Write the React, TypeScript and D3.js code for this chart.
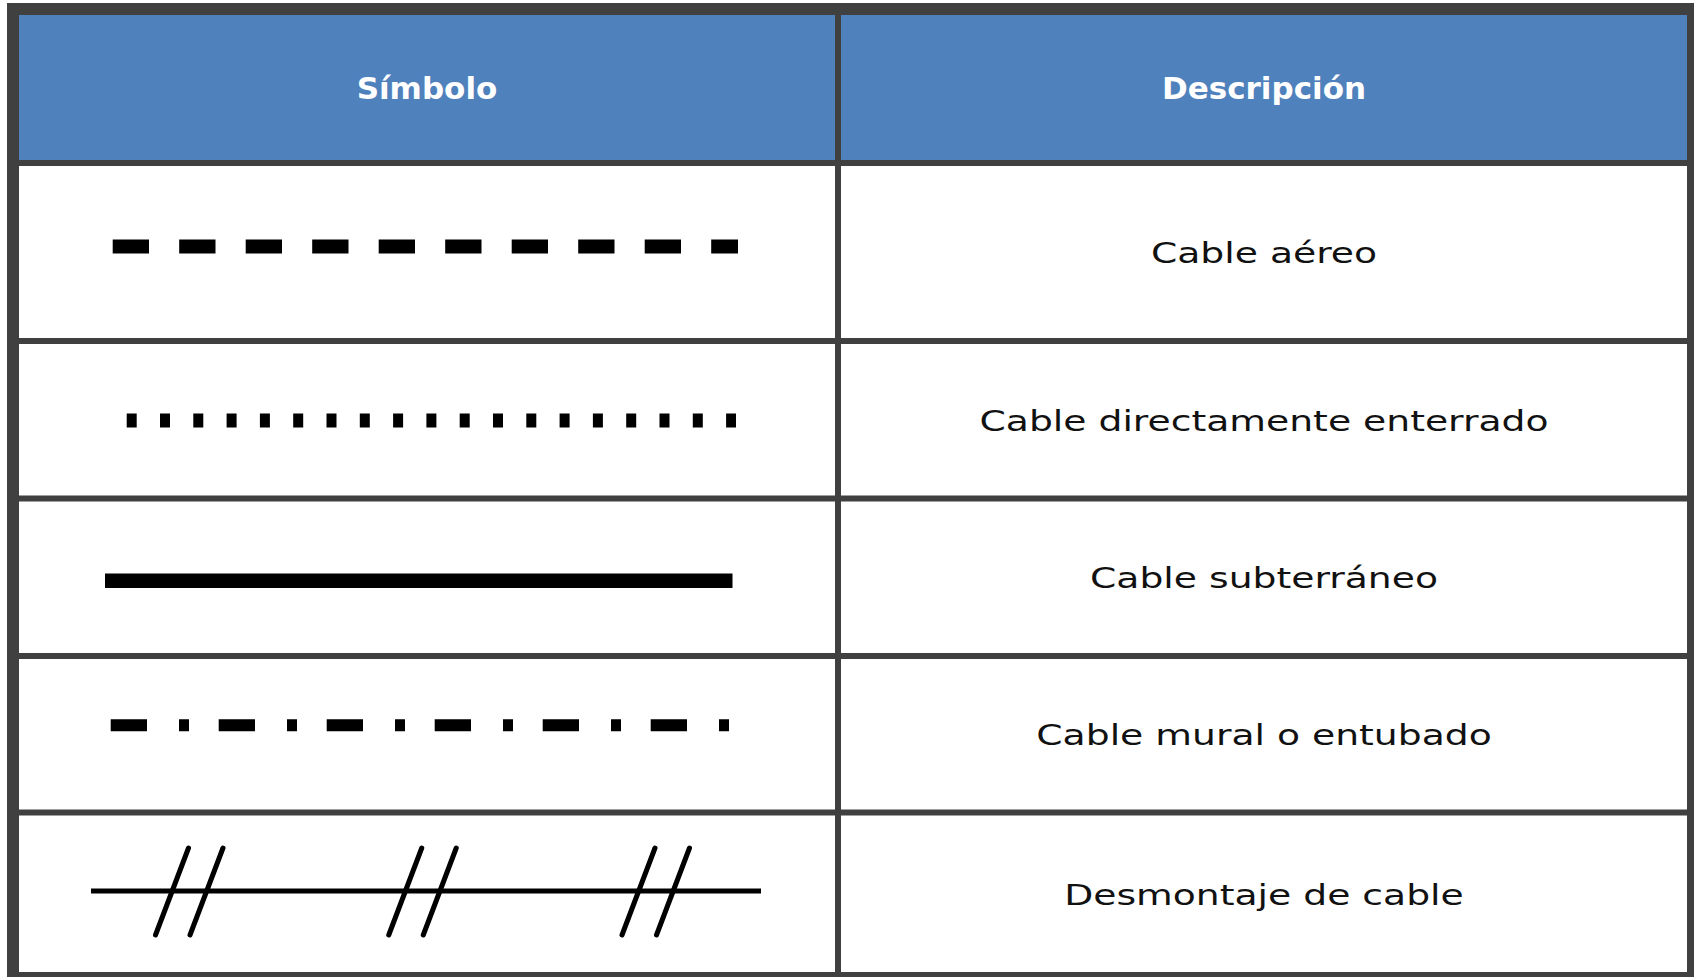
import React, { useEffect, useRef } from 'react';
import * as d3 from 'd3';

// contenido de la tabla
const headers = ['Símbolo', 'Descripción'];
const descriptions = [
  'Cable aéreo',
  'Cable directamente enterrado',
  'Cable subterráneo',
  'Cable mural o entubado',
  'Desmontaje de cable',
];
const symbolKinds = ['dashed', 'dotted', 'solid', 'dashdot', 'break'];
const breakPairs = [0, 1, 2];

// layout (px)
const W = 1694;
const H = 977;
const outer = { left: 7, top: 3, right: 1687, bottom: 972, stroke: 12 };
const colSplit = 838;
const rowEdges = [163, 341, 498.5, 656, 812.5, 975];
const headerBottom = 160;

const symbolStyle: Record<string, any> = {
  dashed: { x1: 112.7, x2: 738, dy: -5.5, width: 14, dash: '36.3 30.2' },
  dotted: { x1: 126.7, x2: 736, dy: 0.8, width: 14, dash: '10 23.3' },
  solid: { x1: 105, x2: 732.5, dy: 3.5, width: 14.7, dash: null },
  dashdot: { x1: 110.7, x2: 729, dy: -9, width: 12, dash: '36.3 32 10 29.7' },
  break: { x1: 91, x2: 761, dy: -2.75, width: 5, dash: null },
};

const App = () => {
  const ref = useRef<SVGSVGElement>(null);

  useEffect(() => {
    const svg = d3.select(ref.current);
    svg.selectAll('*').remove();

    const borderColor = '#404040';
    const innerLeft = outer.left + outer.stroke;

    // cabecera
    svg.append('rect')
      .attr('x', innerLeft)
      .attr('y', outer.top + outer.stroke)
      .attr('width', outer.right - innerLeft)
      .attr('height', headerBottom - outer.top - outer.stroke)
      .attr('fill', '#4F81BD');

    const colCenters = [(innerLeft + colSplit - 3) / 2, (colSplit + 3 + outer.right) / 2];
    const headerY = (outer.top + outer.stroke + headerBottom) / 2;

    svg.selectAll('.header')
      .data(headers)
      .enter().append('text')
      .attr('class', 'header')
      .attr('x', (_, i) => colCenters[i])
      .attr('y', headerY + 11)
      .attr('text-anchor', 'middle')
      .attr('font-family', 'DejaVu Sans')
      .attr('font-weight', 'bold')
      .attr('font-size', 31)
      .attr('fill', '#ffffff')
      .text(d => d);

    const rowCenter = (i: number) => (rowEdges[i] + rowEdges[i + 1]) / 2;

    // descripciones
    svg.selectAll('.desc')
      .data(descriptions)
      .enter().append('text')
      .attr('class', 'desc')
      .attr('transform', (_, i) => `translate(${colCenters[1]},${rowCenter(i) + 11}) scale(1.3,1)`)
      .attr('text-anchor', 'middle')
      .attr('font-family', 'DejaVu Sans')
      .attr('font-size', 29)
      .attr('fill', '#111111')
      .text(d => d);

    // símbolos
    symbolKinds.forEach((kind, i) => {
      const s = symbolStyle[kind];
      const y = rowCenter(i) + s.dy;
      const line = svg.append('line')
        .attr('x1', s.x1)
        .attr('x2', s.x2)
        .attr('y1', y)
        .attr('y2', y)
        .attr('stroke', '#000')
        .attr('stroke-width', s.width);
      if (s.dash) line.attr('stroke-dasharray', s.dash);

      if (kind === 'break') {
        const pairX = d3.scaleLinear().domain([0, 2]).range([155.5, 622]);
        breakPairs.forEach(p => {
          [0, 34.5].forEach(off => {
            const bx = pairX(p) + off;
            svg.append('line')
              .attr('x1', bx)
              .attr('y1', y + 44)
              .attr('x2', bx + 33)
              .attr('y2', y - 43)
              .attr('stroke', '#000')
              .attr('stroke-width', 5)
              .attr('stroke-linecap', 'round');
          });
        });
      }
    });

    // líneas de la tabla
    rowEdges.slice(0, -1).forEach(yy => {
      svg.append('line')
        .attr('x1', innerLeft)
        .attr('x2', outer.right)
        .attr('y1', yy)
        .attr('y2', yy)
        .attr('stroke', borderColor)
        .attr('stroke-width', 6);
    });

    svg.append('line')
      .attr('x1', colSplit)
      .attr('x2', colSplit)
      .attr('y1', outer.top + outer.stroke)
      .attr('y2', outer.bottom)
      .attr('stroke', borderColor)
      .attr('stroke-width', 6);

    svg.append('rect')
      .attr('x', outer.left + outer.stroke / 2)
      .attr('y', outer.top + outer.stroke / 2)
      .attr('width', outer.right + outer.stroke / 2 - (outer.left + outer.stroke / 2))
      .attr('height', outer.bottom + outer.stroke / 2 - (outer.top + outer.stroke / 2))
      .attr('fill', 'none')
      .attr('stroke', borderColor)
      .attr('stroke-width', outer.stroke);
  }, []);

  return (
    <svg
      ref={ref}
      width={W}
      height={H}
      style={{ position: 'absolute', left: 0, top: 0, background: '#ffffff' }}
    />
  );
};

export default App;
